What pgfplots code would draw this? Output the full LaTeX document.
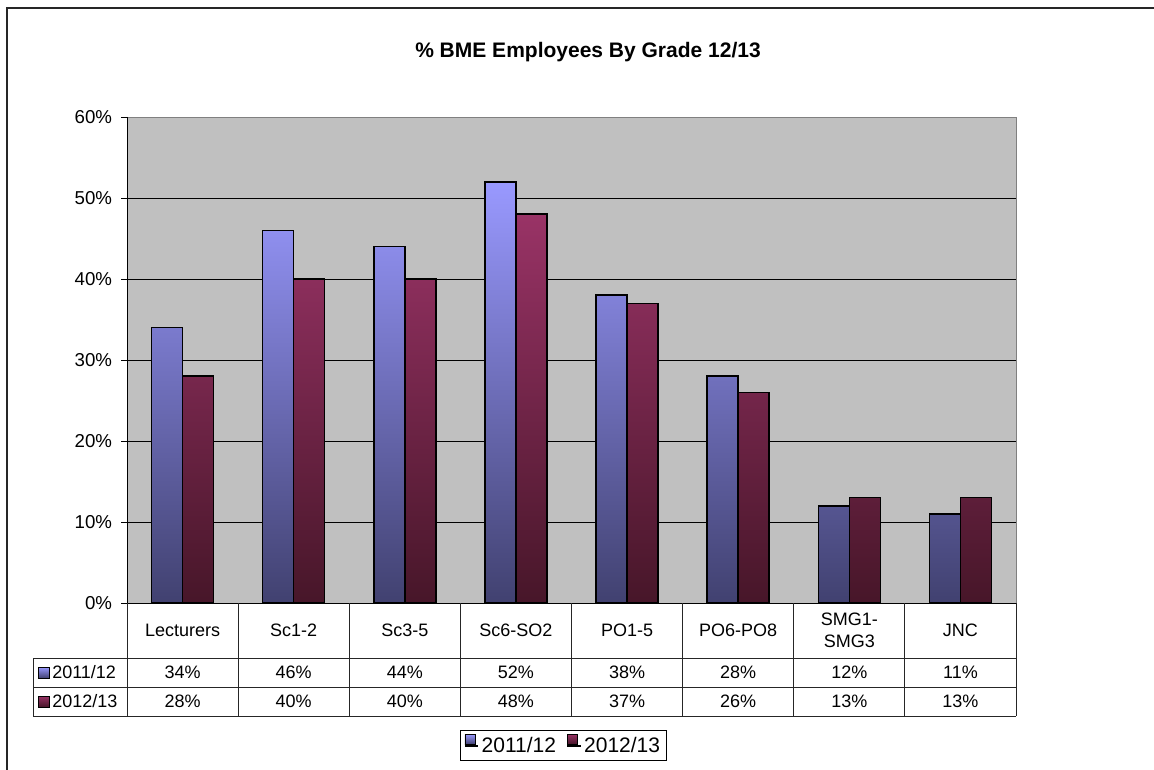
\documentclass[border=0pt]{standalone}
\usepackage{pgfplots}
\pgfplotsset{compat=1.18}
\usepackage{pgfplotstable}
\usepackage{fontspec}
\setmainfont{Liberation Sans}

\definecolor{bggray}{HTML}{C0C0C0}
\definecolor{bluetop}{HTML}{9999FF}
\definecolor{bluebot}{HTML}{414170}
\definecolor{redtop}{HTML}{993366}
\definecolor{redbot}{HTML}{471629}

% share of BME employees by grade (%)
\pgfplotstableread{
x a b
1 34 28
2 46 40
3 44 40
4 52 48
5 38 37
6 28 26
7 12 13
8 11 13
}\gradedata

\begin{document}
\begin{tikzpicture}
\begin{axis}[
  at={(95.25pt,-452.25pt)}, anchor=south west,
  scale only axis, width=666.75pt, height=364.5pt,
  xmin=0.5, xmax=8.5, ymin=0, ymax=60,
  ybar=0pt, bar width=23.25pt,
  axis background/.style={fill=bggray},
  axis line style={draw=black!50, line width=0.75pt},
  xtick=\empty,
  ytick={0,10,...,60}, ytick pos=left,
  yticklabel={\pgfmathprintnumber[assume math mode=true]{\tick}\%},
  tick align=outside, major tick length=4.5pt,
  ytick style={black, line width=0.75pt},
  yticklabel style={font=\fontsize{14}{16}\selectfont, inner sep=0pt, xshift=-6.5pt},
  ymajorgrids, major grid style={black, line width=0.7pt},
  legend columns=2,
  legend style={at={(0.491,-0.2932)}, anchor=center, draw=black, line width=0.75pt,
    font=\fontsize{15.75}{18}\selectfont, inner xsep=3pt, inner ysep=2pt,
    /tikz/every even column/.append style={column sep=6pt}},
  legend image code/.code={\draw[#1, line width=0.7pt] (0pt,1.5pt) rectangle (7.5pt,9pt);
    \path (0pt,0pt) -- (10pt,0pt);},
]
\addplot[draw=black, line width=1.1pt, top color=bluetop, bottom color=bluebot] table[x=x,y=a]{\gradedata};
\addplot[draw=black, line width=1.1pt, top color=redtop, bottom color=redbot] table[x=x,y=b]{\gradedata};
\legend{2011/12,2012/13}
\end{axis}

\begin{scope}[x=0.75pt, y=-0.75pt]
  \path[use as bounding box] (0,0) rectangle (1154,770);
  % outer chart frame
  \draw[black!85, line width=1.1pt] (1160,8) -- (7,8) -- (7,775);
  \node[font=\bfseries\fontsize{15.75}{18}\selectfont] at (588,52) {\% BME Employees By Grade 12/13};
  % axis lines
  \draw[black, line width=0.75pt] (127,117) -- (127,603) -- (1016,603);
  % data table
  \draw[black!85, line width=0.75pt] (33,658) -- (1016,658) (33,687) -- (1016,687) (33,716) -- (1016,716) (33,658) -- (33,716);
  \foreach \k in {0,...,8} \draw[black!85, line width=0.75pt] ({127+111.125*\k},603) -- ({127+111.125*\k},716);
  \foreach \c [count=\i] in {Lecturers,Sc1-2,Sc3-5,Sc6-SO2,PO1-5,PO6-PO8,{SMG1-\\SMG3},JNC}
    \node[font=\fontsize{13.5}{16.5}\selectfont, align=center] at ({127+111.125*(\i-0.5)},630) {\c};
  \foreach \i in {0,...,7}{
    \pgfplotstablegetelem{\i}{a}\of\gradedata
    \node[font=\fontsize{13.5}{16}\selectfont] at ({127+111.125*(\i+0.5)},672.5) {\pgfplotsretval\%};
    \pgfplotstablegetelem{\i}{b}\of\gradedata
    \node[font=\fontsize{13.5}{16}\selectfont] at ({127+111.125*(\i+0.5)},701.5) {\pgfplotsretval\%};
  }
  \shade[draw=black, line width=0.6pt, top color=bluetop, bottom color=bluebot] (38,667) rectangle (49,678);
  \shade[draw=black, line width=0.6pt, top color=redtop, bottom color=redbot] (38,696) rectangle (49,707);
  \node[font=\fontsize{13.5}{16}\selectfont, anchor=west, inner sep=0pt] at (52,672.5) {2011/12};
  \node[font=\fontsize{13.5}{16}\selectfont, anchor=west, inner sep=0pt] at (52,701.5) {2012/13};
\end{scope}
\end{tikzpicture}
\end{document}
